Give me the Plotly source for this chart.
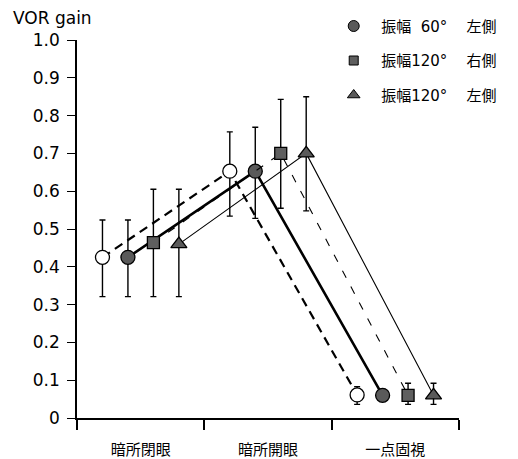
import plotly.graph_objects as go

categories = ["暗所閉眼", "暗所開眼", "一点固視"]
y_ticks = [0, 0.1, 0.2, 0.3, 0.4, 0.5, 0.6, 0.7, 0.8, 0.9, 1.0]
y_tick_text = ["0", "0.1", "0.2", "0.3", "0.4", "0.5", "0.6", "0.7", "0.8", "0.9", "1.0"]

# series: mean, upper end of bar, lower end of bar
open60_mean = [0.425, 0.653, 0.061]
open60_upper = [0.524, 0.757, 0.083]
open60_lower = [0.321, 0.534, 0.036]

left60_mean = [0.425, 0.653, 0.060]
left60_upper = [0.524, 0.769, 0.072]
left60_lower = [0.321, 0.528, 0.048]

right120_mean = [0.464, 0.700, 0.060]
right120_upper = [0.605, 0.843, 0.092]
right120_lower = [0.321, 0.555, 0.036]

left120_mean = [0.460, 0.700, 0.060]
left120_upper = [0.605, 0.850, 0.092]
left120_lower = [0.321, 0.548, 0.036]

FONT = "DejaVu Sans, Noto Sans CJK JP, sans-serif"
GAP = "\u00a0" * 4

series = [
    dict(name="振幅 60° 右側", mean=open60_mean, up=open60_upper, lo=open60_lower, off=-0.3,
         symbol="circle", size=14, fill="white", line=dict(color="black", width=2.2, dash="9px,6px"),
         legend=False),
    dict(name="\u2002振幅\u200760°" + GAP + "左側", mean=left60_mean, up=left60_upper, lo=left60_lower, off=-0.1,
         symbol="circle", size=14, fill="#5a5a5a", line=dict(color="black", width=2.6, dash="solid"),
         legend=True),
    dict(name="\u2002振幅120°" + GAP + "右側", mean=right120_mean, up=right120_upper, lo=right120_lower, off=0.1,
         symbol="square", size=12, fill="#5f5f5f", line=dict(color="black", width=1.1, dash="8px,10px"),
         legend=True),
    dict(name="\u2002振幅120°" + GAP + "左側", mean=left120_mean, up=left120_upper, lo=left120_lower, off=0.3,
         symbol="triangle-up", size=14, fill="#5a5a5a", line=dict(color="black", width=1.1, dash="solid"),
         legend=True),
]

fig = go.Figure()
for s in series:
    xs = [i + 1 + s["off"] for i in range(len(categories))]
    fig.add_trace(go.Scatter(
        x=xs, y=s["mean"], mode="lines+markers", showlegend=False,
        line=s["line"],
        marker=dict(symbol=s["symbol"], size=s["size"], color=s["fill"],
                    line=dict(color="black", width=1.3)),
        error_y=dict(type="data", symmetric=False,
                     array=[u - m for u, m in zip(s["up"], s["mean"])],
                     arrayminus=[m - l for m, l in zip(s["mean"], s["lo"])],
                     color="black", thickness=1.4, width=3),
    ))

for i, s in enumerate(series):
    if s["legend"]:
        fig.add_trace(go.Scatter(
            x=[None], y=[None], mode="markers", name=s["name"], legendgroup=str(i),
            marker=dict(symbol=s["symbol"], size=s["size"] - 3, color=s["fill"],
                        line=dict(color="black", width=1)),
        ))

fig.update_layout(
    width=518, height=459,
    margin=dict(l=77, r=59, t=40, b=41, autoexpand=False),
    paper_bgcolor="white", plot_bgcolor="white",
    font=dict(family=FONT, size=15, color="black"),
    showlegend=True,
    legend=dict(x=0.672, y=1.08, xanchor="left", yanchor="top",
                font=dict(size=15), tracegroupgap=12, traceorder="grouped",
                bgcolor="rgba(0,0,0,0)"),
    xaxis=dict(range=[0.5, 3.5], tickvals=[1, 2, 3], ticktext=categories,
               ticks="", showgrid=False, zeroline=False, automargin=False,
               showline=True, linecolor="black", linewidth=1.5,
               tickfont=dict(size=15, family="Noto Sans CJK JP"),
               ticklabelstandoff=17,
               minor=dict(tick0=0.5, dtick=1, ticks="outside", ticklen=10,
                          tickcolor="black", tickwidth=1.5, showgrid=False)),
    yaxis=dict(range=[0, 1.0], tickvals=y_ticks, ticktext=y_tick_text,
               ticks="outside", ticklen=8, tickwidth=1.3, tickcolor="black",
               showgrid=False, zeroline=False, automargin=False,
               showline=True, linecolor="black", linewidth=1.5,
               ticklabelstandoff=4,
               tickfont=dict(size=17)),
    annotations=[dict(text="VOR gain", xref="paper", yref="paper",
                      x=(11 - 77) / 382, y=(418 - 18) / 378, xanchor="left", yanchor="middle",
                      showarrow=False, font=dict(size=17))],
)

fig.write_html("out.html")
